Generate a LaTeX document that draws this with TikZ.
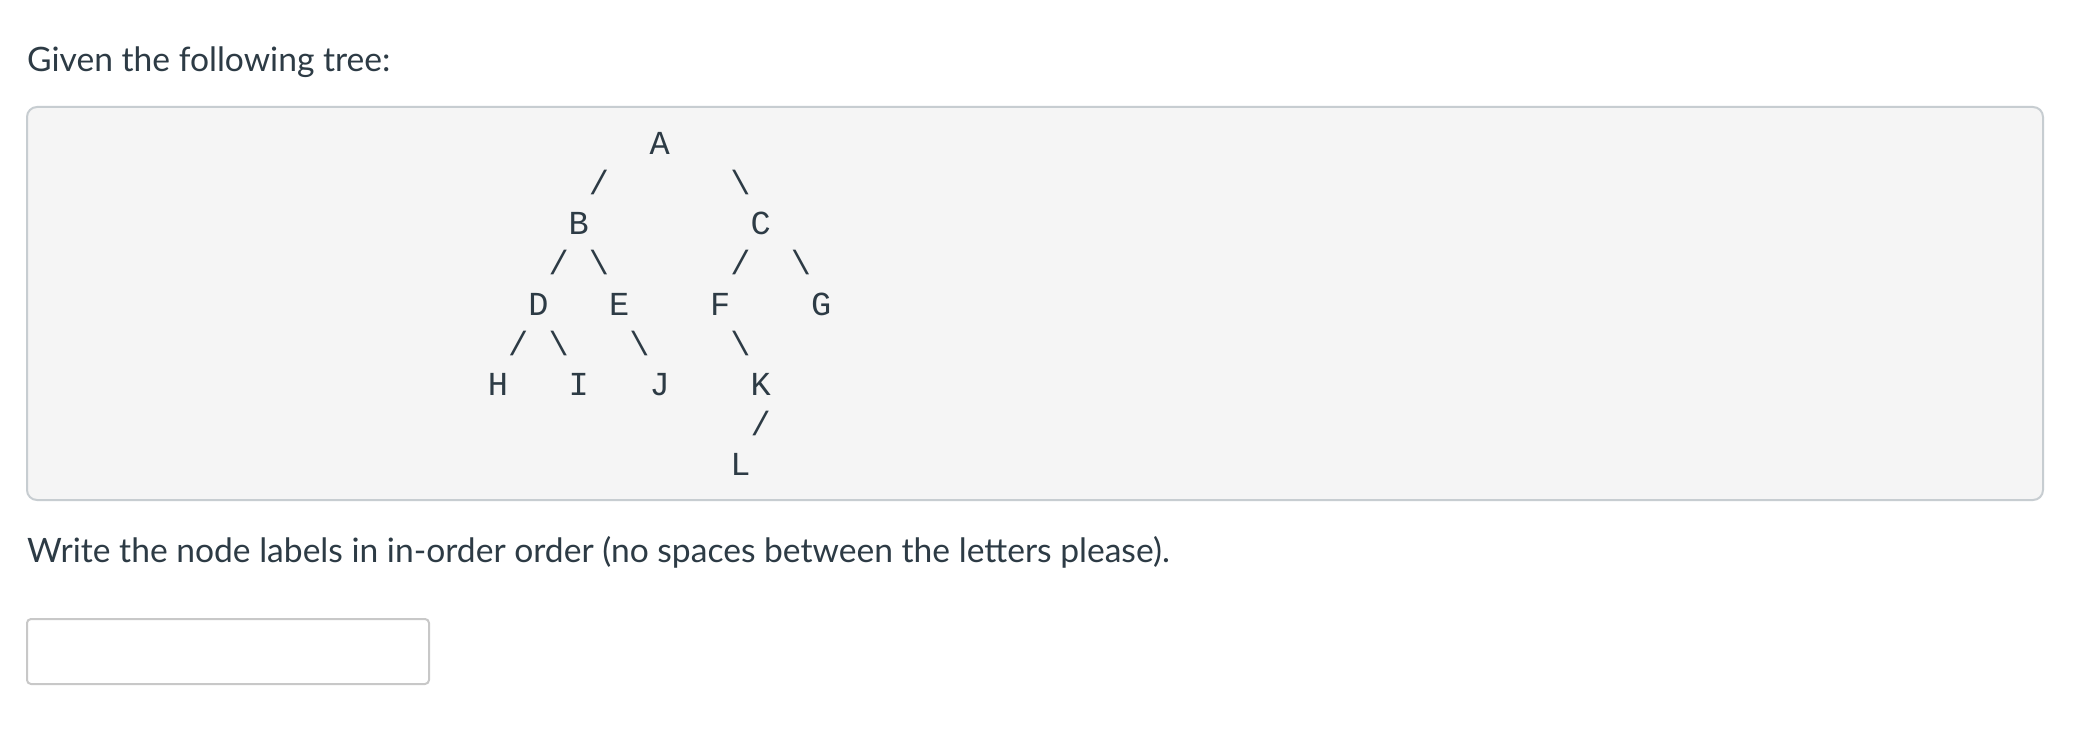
\documentclass[tikz,border=0pt]{standalone}
\usepackage{fontspec}
\setmainfont{Lato}
\newfontfamily\treefont{Liberation Mono}
\definecolor{ink}{HTML}{2D3B45}
\definecolor{panelfill}{HTML}{F5F5F5}
\definecolor{panelline}{HTML}{C7CDD1}
\definecolor{fieldline}{HTML}{C8C8C8}
\newcommand\tcell[4]{\node[glyph] (#1) at ({498+20.2*#2},{155+40*#3}) {#4};}
\begin{document}
\begin{tikzpicture}[x=1pt,y=-1pt,
  prose/.style={anchor=base west, inner sep=0, text=ink, font=\fontsize{33.6}{40}\selectfont},
  glyph/.style={anchor=base, inner sep=0, text=ink, font=\treefont\fontsize{33.6}{40}\selectfont},
  panel/.style={draw=panelline, fill=panelfill, line width=2pt, rounded corners=10pt},
  field/.style={draw=fieldline, fill=white, line width=2pt, rounded corners=4pt}]
\useasboundingbox[fill=white] (0,0) rectangle (2078,730);
\node[prose] (title) at (27,72) {Given the following tree:};
\draw[panel] (27,107) rectangle (2043,500);
% row 0
\tcell{A}{8}{0}{A}
% row 1
\tcell{s1}{5}{1}{/}
\tcell{s2}{12}{1}{\textbackslash}
% row 2
\tcell{B}{4}{2}{B}
\tcell{C}{13}{2}{C}
% row 3
\tcell{s3}{3}{3}{/}
\tcell{s4}{5}{3}{\textbackslash}
\tcell{s5}{12}{3}{/}
\tcell{s6}{15}{3}{\textbackslash}
% row 4
\tcell{D}{2}{4}{D}
\tcell{E}{6}{4}{E}
\tcell{F}{11}{4}{F}
\tcell{G}{16}{4}{G}
% row 5
\tcell{s7}{1}{5}{/}
\tcell{s8}{3}{5}{\textbackslash}
\tcell{s9}{7}{5}{\textbackslash}
\tcell{s10}{12}{5}{\textbackslash}
% row 6
\tcell{H}{0}{6}{H}
\tcell{I}{4}{6}{I}
\tcell{J}{8}{6}{J}
\tcell{K}{13}{6}{K}
% row 7
\tcell{s11}{13}{7}{/}
% row 8
\tcell{L}{12}{8}{L}
\node[prose] (prompt) at (27,562) {Write the node labels in in-order order (no spaces between the letters please).};
\draw[field] (27,619) rectangle (429,684);
\end{tikzpicture}
\end{document}
